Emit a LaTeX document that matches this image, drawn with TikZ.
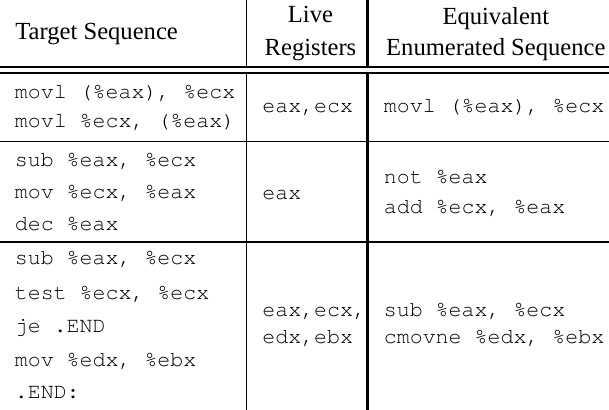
\documentclass[tikz,border=0pt]{standalone}
\usepackage{fontspec}
\setmainfont{Liberation Serif}
\setmonofont{TeX Gyre Cursor}

\begin{document}
\begin{tikzpicture}[x=0.5pt, y=-0.5pt, every node/.style={inner sep=0pt},
    head/.style={font=\fontsize{12.3pt}{14pt}\selectfont, anchor=base},
    code/.style={font=\ttfamily\fontsize{10.8pt}{13pt}\selectfont, anchor=base west}]
            \useasboundingbox (0,0) rectangle (609,410);
            % rules
            \draw[line width=1pt] (0,67) -- (609,67);
            \draw[line width=1pt] (0,73.5) -- (609,73.5);
            \draw[line width=0.85pt] (0,141.5) -- (609,141.5);
            \draw[line width=1.3pt] (0,242) -- (609,242);
            \draw[line width=0.85pt] (246.5,0) -- (246.5,67) (246.5,73.5) -- (246.5,410);
            \draw[line width=1.3pt] (367.7,0) -- (367.7,67) (367.7,73.5) -- (367.7,410);
            % header
            \node[head, anchor=base west] (target) at (15,39.5) {Target Sequence};
            \node[head] (live) at (310.5,23) {Live};
            \node[head] (regs) at (310.5,56) {Registers};
            \node[head] (equiv) at (495.8,24.5) {Equivalent};
            \node[head] (enum) at (495.8,55.5) {Enumerated Sequence};
            % first column
            \foreach \y/\txt [count=\i] in {98.5/{movl (\%eax), \%ecx}, 128/{movl \%ecx, (\%eax)},
                    167/{sub \%eax, \%ecx}, 199/{mov \%ecx, \%eax}, 231/{dec \%eax},
                    265/{sub \%eax, \%ecx}, 300/{test \%ecx, \%ecx}, 333/{je .END},
                    366/{mov \%edx, \%ebx}, 398.5/{.END:}}
                \node[code] (tgt\i) at (14.5,\y) {\txt};
            % second column
            \foreach \y/\txt [count=\i] in {113/{eax,ecx}, 199.5/{eax}, 316.5/{eax,ecx,}, 344/{edx,ebx}}
                \node[code] (live\i) at (262,\y) {\txt};
            % third column
            \foreach \y/\txt [count=\i] in {113/{movl (\%eax), \%ecx}, 183.5/{not \%eax},
                    213.5/{add \%ecx, \%eax}, 316.5/{sub \%eax, \%ecx}, 344/{cmovne \%edx, \%ebx}}
                \node[code] (enum\i) at (383.5,\y) {\txt};
        \end{tikzpicture}
\end{document}
